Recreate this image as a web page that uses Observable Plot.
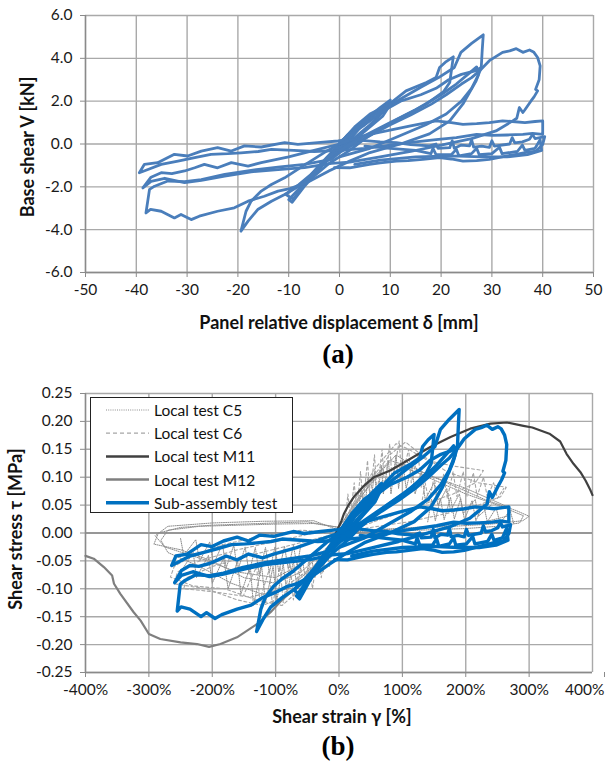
<!DOCTYPE html>
<html><head><meta charset="utf-8">
<script src="https://cdn.jsdelivr.net/npm/d3@7"></script>
<script src="https://cdn.jsdelivr.net/npm/@observablehq/plot@0.6"></script>
<style>
body{margin:0;background:#fff;width:605px;height:764px;position:relative;overflow:hidden;font-family:Lato,"Liberation Sans",sans-serif;}
.panel{position:absolute;left:0;}
.title{position:absolute;font-weight:bold;color:#111;white-space:nowrap;transform:translate(-50%,-50%);font-size:18px;}
.ytitle{position:absolute;font-weight:bold;color:#111;white-space:nowrap;transform:translate(-50%,-50%) rotate(-90deg);font-size:18px;}
.tag{position:absolute;font-family:"Liberation Serif",serif;font-weight:bold;font-size:27px;color:#000;transform:translate(-50%,-50%);}
.legend{position:absolute;left:90px;top:397px;width:203px;height:116px;border:1px solid #222;background:#fff;box-sizing:border-box;}
.legend svg{position:absolute;left:0;top:0;}
.legend div{position:absolute;left:63px;font-size:15.5px;color:#111;transform:translateY(-50%);white-space:nowrap;}
</style></head><body>
<div id="pa" class="panel" style="top:0"></div>
<div id="pb" class="panel" style="top:375px"></div>
<div class="title" style="left:339px;top:322px">Panel relative displacement δ [mm]</div>
<div class="ytitle" style="left:27px;top:147px">Base shear V [kN]</div>
<div class="tag" style="left:338px;top:354px">(a)</div>
<div class="title" style="left:342px;top:716px">Shear strain γ [%]</div>
<div class="ytitle" style="left:15px;top:529px">Shear stress τ [MPa]</div>
<div class="tag" style="left:338px;top:746px">(b)</div>
<div class="legend" id="legend"></div>
<script>
// ---------- Panel (a) axes ----------
const aXTicks = [-50,-40,-30,-20,-10,0,10,20,30,40,50];
const aYTicks = [-6,-4,-2,0,2,4,6];
// ---------- Panel (b) axes ----------
const bXTicks = [-400,-300,-200,-100,0,100,200,300,400];
const bYTicks = [-0.25,-0.2,-0.15,-0.1,-0.05,0,0.05,0.1,0.15,0.2,0.25];

// ---------- Panel (a) sub-assembly test loops: [δ mm, V kN] ----------
const aLoop0 = [[0,0],[1.5,0.4],[3,0.7],[1.5,0.2],[0,-0.2],[-1.5,-0.5],[-3,-0.8],[-1.5,-0.4],[0,0]];
const aLoop1 = [[0,0],[2,0.5],[4,0.9],[5.5,1.2],[4.2,0.8],[2,0.2],[0,-0.3],[-2,-0.7],[-4,-1.1],[-5.5,-1.4],[-4,-1.0],[-2,-0.5],[0,0]];
const aLoop2 = [[0,0],[3,0.7],[6,1.3],[8,1.7],[10,2.05],[9,1.6],[6,0.9],[3,0.3],[0,-0.3],[-3,-0.9],[-6,-1.6],[-8,-2.1],[-10,-2.6],[-9.3,-2.72],[-7,-2.0],[-4,-1.2],[-1,-0.3],[0,0]];
const aLoop3 = [[0,0],[4,0.8],[7,1.4],[10,1.85],[8.5,1.3],[5,0.6],[2,0],[-2,-0.6],[-5,-1.3],[-8,-1.9],[-10.6,-2.35],[-9.1,-2.58],[-7,-1.9],[-3,-0.9],[0,0]];
const aLoop4 = [[0,0],[3,0.8],[6,1.4],[9.8,1.86],[13.1,2.48],[17.1,2.87],[19,3.1],[19.7,3.57],[21,3.85],[22.4,4.07],[21.7,2.87],[20.5,2.45],[17,1.85],[13,1.35],[9,0.85],[5,0.25],[2,-0.3],[-2,-0.9],[-6,-1.7],[-10.8,-2.36],[-13.4,-2.67],[-16.1,-3.06],[-18,-3.6],[-19.4,-4.07],[-18.4,-3.14],[-17.4,-2.67],[-15.4,-2.2],[-13.4,-1.89],[-10.8,-1.58],[-7,-1.0],[-3,-0.4],[0,0]];
const aLoop5 = [[0,0],[4,0.9],[8,1.55],[12,2.1],[16,2.65],[19.5,3.1],[22.6,3.57],[23.9,4.28],[26,4.7],[28.3,5.1],[28.1,4.4],[27.9,3.57],[26.9,2.95],[24.3,1.87],[21.7,1.08],[17.7,0.47],[12,0.0],[6,-0.4],[2,-0.8],[-2,-1.25],[-6,-1.75],[-10,-2.1],[-12.1,-2.2],[-14.8,-2.44],[-18,-2.67],[-20.7,-2.98],[-24,-3.14],[-27.6,-3.37],[-29.2,-3.53],[-31.2,-3.29],[-32.5,-3.45],[-35.1,-3.14],[-37.2,-3.05],[-38.1,-3.22],[-37.4,-2.12],[-36.4,-1.97],[-33.8,-1.73],[-30.5,-1.76],[-27.2,-1.66],[-22.6,-1.42],[-17.4,-1.23],[-12.1,-1.08],[-6.9,-0.95],[-1.6,-0.72],[0,-0.4]];
const aLoop6 = [[0,-0.4],[3,0.0],[6,0.4],[10,0.9],[14,1.35],[18,1.85],[21,2.3],[24,2.8],[26,3.1],[27.5,3.4],[29.5,3.89],[32.1,4.28],[33.5,4.35],[34.8,4.45],[36.1,4.28],[37.4,4.39],[38.2,4.3],[39,4.04],[39.5,3.65],[39.3,3.0],[38.6,2.55],[39,2.48],[38.3,2.2],[37.7,2.01],[36.5,1.6],[36.1,1.47],[35.4,1.7],[34.9,1.2],[34.1,1.08],[30.8,0.61],[26,0.25],[20,-0.05],[14,-0.35],[8,-0.6],[2,-0.85],[-1.6,-0.9],[-6.9,-1.1],[-12.1,-1.2],[-17.4,-1.3],[-22.6,-1.5],[-27.2,-1.7],[-30.5,-1.8],[-34.4,-1.6],[-37.1,-1.75],[-38.7,-2.05],[-37.1,-1.55],[-35.1,-1.34],[-33,-1.38],[-30.5,-1.26],[-28.5,-1.11],[-26.6,-0.95],[-24,-1.11],[-21.3,-0.87],[-18,-1.03],[-15.4,-0.87],[-10,-0.6],[-5,-0.3],[0,0]];
const aLoop7 = [[0,0],[4,0.35],[9,0.6],[14,0.85],[19,1.08],[22,1.0],[24.3,0.92],[27,0.95],[29.5,1.0],[32.1,1.08],[34,1.05],[36.5,1.0],[38.5,1.05],[40,1.08],[40,0.45],[38,0.5],[36.1,0.45],[33,0.42],[30,0.4],[27,0.45],[23,0.3],[19,0.2],[15,0.1],[10,-0.05],[5,-0.2],[0,-0.3],[-5,-0.35],[-9,-0.3],[-13.4,-0.25],[-16,-0.35],[-19.4,-0.41],[-22,-0.45],[-25.3,-0.48],[-28.5,-0.64],[-31.8,-0.8],[-35.1,-0.95],[-37.7,-1.19],[-39.4,-1.34],[-38.4,-0.95],[-35.8,-0.87],[-32.5,-0.48],[-29.9,-0.56],[-27.2,-0.33],[-24,-0.17],[-21.3,-0.33],[-18.7,-0.09],[-15.4,-0.14],[-10.8,0.06],[-8.2,-0.02],[-4.3,0.06],[-0.3,0.14],[2,0.2]];
const aLoop8 = [[2,0.2],[5,0.16],[8,0.1],[11.2,0.06],[14,-0.03],[17.7,-0.09],[19,0.0],[19.4,-0.2],[21.7,-0.17],[22.2,0.15],[22.6,-0.2],[24,-0.05],[25.6,-0.09],[26,0.2],[26.4,-0.15],[28,-0.1],[29.5,-0.16],[30,0.15],[30.5,-0.1],[33.5,0],[34,0.3],[34.5,0.05],[36,0.1],[37.4,0.22],[38,0.45],[38.5,0.25],[40.4,0.34],[40,-0.02],[38.7,-0.33],[36.5,-0.4],[34.8,-0.48],[32,-0.6],[29.5,-0.72],[27,-0.78],[24.3,-0.8],[22,-0.7],[19.7,-0.64],[16.4,-0.72],[13.5,-0.78],[11.2,-0.8],[8,-0.88],[5.9,-0.95],[2,-1.11],[-1,-1.1]];
const aLoop9 = [[5,-0.1],[10,-0.2],[15,-0.3],[18,-0.45],[18.4,-0.2],[19,-0.5],[22,-0.5],[23,-0.25],[23.5,-0.55],[26,-0.45],[27,-0.2],[27.5,-0.5],[30,-0.45],[31.5,-0.15],[32,-0.45],[35,-0.35],[36,-0.05],[36.5,-0.3],[38.5,-0.2],[39.5,0.2],[39.8,-0.3],[37,-0.5],[33,-0.6],[28,-0.6],[22,-0.55],[15,-0.6],[8,-0.75],[3,-0.95]];
const aLoop10 = [[0,-0.3],[5,0.4],[10,1.0],[15,1.6],[20,2.3],[23,2.8],[25.5,3.3],[27,3.6],[27.3,3.2],[26,2.6],[24,2.0],[21,1.4],[17,0.9],[12,0.4],[6,-0.2],[0,-0.6]];
const aLoop11 = [[0,0.1],[5,0.9],[9,1.6],[12,2.0],[16,2.3],[19,2.6],[21.5,3.0],[24,3.25],[26.5,3.4],[27.9,3.57]];
const aLoops = [aLoop0,aLoop1,aLoop2,aLoop3,aLoop4,aLoop5,aLoop6,aLoop7,aLoop8,aLoop9,aLoop10,aLoop11];

// unit conversion of the same test to panel (b): read from matching peaks (28.3 mm ↔ 190 %, 5.08 kN ↔ 0.22 MPa)
const strainPercentPerMm = 6.7;
const stressMPaPerKN = 0.0434;

// ---------- Panel (b) local tests: [γ %, τ MPa] ----------
const m11 = [[-5,0.0],[0,0.012],[4,0.022],[7.6,0.034],[15,0.05],[23,0.064],[38,0.083],[55,0.1],[81,0.112],[108,0.13],[144,0.154],[176,0.172],[207,0.187],[239,0.196],[265,0.198],[291,0.192],[305,0.189],[332,0.178],[349,0.164],[359,0.142],[370,0.124],[381,0.109],[389,0.094],[397,0.076],[400,0.068]];
const m12 = [[-400,-0.041],[-387,-0.046],[-371,-0.061],[-358,-0.076],[-355,-0.091],[-345,-0.109],[-324,-0.142],[-313,-0.157],[-300,-0.181],[-282,-0.19],[-250,-0.196],[-224,-0.199],[-205,-0.204],[-187,-0.199],[-161,-0.187],[-129,-0.163],[-108,-0.142],[-90,-0.12],[-70,-0.1],[-50,-0.078],[-30,-0.05],[-12,-0.022],[0,0]];
const c5LoopA = [[0,0.01],[30,0.06],[60,0.1],[90,0.12],[120,0.11],[160,0.09],[200,0.07],[250,0.05],[291,0.031],[285,0.018],[250,0.012],[200,0.008],[150,0.006],[100,0.004],[50,0.002],[0,0],[-30,-0.04],[-60,-0.07],[-100,-0.09],[-150,-0.08],[-200,-0.05],[-250,-0.03],[-292,-0.02],[-285,0.0],[-250,0.01],[-200,0.014],[-150,0.016],[-100,0.018],[-50,0.02],[0,0.01]];
const c5LoopB = [[0,0.01],[40,0.08],[80,0.13],[110,0.12],[150,0.1],[200,0.08],[240,0.06],[270,0.045],[265,0.03],[230,0.02],[180,0.015],[120,0.01],[60,0.005],[0,0],[-40,-0.06],[-80,-0.1],[-120,-0.11],[-170,-0.09],[-220,-0.06],[-270,-0.035],[-281,-0.013],[-270,0.005],[-220,0.012],[-160,0.014],[-100,0.016],[-40,0.017],[0,0.01]];
const c5LoopC = [[0,0.005],[50,0.09],[90,0.14],[130,0.11],[180,0.085],[230,0.06],[280,0.04],[300,0.03],[290,0.022],[240,0.016],[180,0.012],[100,0.008],[0,0.004],[-50,-0.05],[-100,-0.08],[-160,-0.07],[-220,-0.045],[-275,-0.025],[-290,-0.005],[-270,0.012],[-200,0.018],[-120,0.021],[-40,0.022],[0,0.005]];
const c5StreakPos = [[30,0.03],[35,0.08],[40,0.04],[46,0.1],[50,0.05],[56,0.11],[60,0.06],[67,0.12],[70,0.07],[78,0.13],[82,0.07],[90,0.14],[94,0.08],[100,0.13],[106,0.08],[115,0.12],[120,0.07],[130,0.11],[136,0.06],[150,0.09],[156,0.05],[170,0.08],[176,0.04],[190,0.07],[196,0.035],[215,0.06],[220,0.03],[240,0.05]];
const c5StreakNeg = [[-20,-0.03],[-25,-0.07],[-30,-0.035],[-38,-0.08],[-44,-0.04],[-52,-0.09],[-58,-0.045],[-66,-0.1],[-72,-0.05],[-82,-0.11],[-88,-0.055],[-98,-0.12],[-104,-0.06],[-116,-0.125],[-122,-0.06],[-135,-0.13],[-140,-0.06],[-155,-0.11],[-160,-0.05],[-175,-0.1],[-182,-0.045],[-200,-0.09],[-206,-0.04],[-225,-0.08],[-230,-0.035],[-250,-0.07]];
const c5StreakNeg2 = [[-60,-0.02],[-66,-0.06],[-72,-0.022],[-80,-0.065],[-86,-0.024],[-95,-0.07],[-101,-0.025],[-110,-0.072],[-116,-0.026],[-126,-0.074],[-132,-0.026],[-142,-0.072],[-148,-0.025],[-160,-0.068],[-166,-0.022],[-178,-0.062],[-184,-0.02],[-198,-0.056],[-204,-0.016],[-220,-0.05],[-226,-0.012],[-245,-0.04],[-250,-0.01]];
const c5StreakPos2 = [[140,0.02],[146,0.06],[152,0.022],[160,0.062],[166,0.024],[176,0.064],[182,0.025],[192,0.062],[198,0.024],[210,0.058],[216,0.022],[228,0.052],[234,0.02],[248,0.045],[254,0.018],[270,0.04],[276,0.016]];
const c6LoopA = [[0,0],[30,0.07],[60,0.12],[90,0.16],[110,0.15],[140,0.13],[180,0.12],[228,0.112],[215,0.09],[180,0.07],[130,0.05],[80,0.03],[30,0.01],[0,0],[-30,-0.05],[-60,-0.1],[-90,-0.13],[-130,-0.12],[-180,-0.1],[-230,-0.095],[-266,-0.079],[-260,-0.06],[-230,-0.04],[-180,-0.02],[-120,-0.005],[-60,0.005],[0,0]];
const c6LoopB = [[0,0],[40,0.08],[80,0.14],[105,0.163],[130,0.14],[170,0.11],[220,0.09],[264,0.082],[255,0.065],[220,0.05],[170,0.035],[110,0.02],[50,0.01],[0,0],[-40,-0.07],[-80,-0.11],[-120,-0.13],[-160,-0.12],[-210,-0.1],[-260,-0.091],[-255,-0.07],[-220,-0.05],[-160,-0.03],[-100,-0.015],[-40,0],[0,0]];
const c6LoopC = [[0,0],[-40,-0.06],[-90,-0.1],[-140,-0.115],[-200,-0.105],[-245,-0.1],[-240,-0.08],[-200,-0.06],[-140,-0.04],[-70,-0.02],[0,0]];
const c6StreakPos = [[10,0.02],[14,0.07],[18,0.03],[24,0.09],[28,0.04],[34,0.11],[38,0.05],[45,0.13],[49,0.06],[56,0.14],[60,0.07],[68,0.15],[72,0.08],[80,0.16],[84,0.09],[95,0.165],[99,0.1],[110,0.15],[114,0.09],[125,0.14],[130,0.08]];
const c6StreakPos2 = [[130,0.05],[136,0.09],[142,0.055],[150,0.1],[156,0.06],[165,0.105],[171,0.062],[180,0.11],[186,0.065],[196,0.11],[202,0.066],[212,0.108],[218,0.066],[228,0.1],[234,0.065],[244,0.09],[250,0.062],[260,0.08]];
const c6StreakNeg = [[-10,-0.02],[-15,-0.06],[-20,-0.025],[-28,-0.08],[-33,-0.035],[-42,-0.1],[-47,-0.045],[-56,-0.11],[-61,-0.05],[-72,-0.12],[-77,-0.055],[-88,-0.125],[-93,-0.06],[-105,-0.13],[-110,-0.065],[-125,-0.12],[-130,-0.06],[-150,-0.11]];

const seriesNames = ["Local test C5","Local test C6","Local test M11","Local test M12","Sub-assembly test"];

// ---------- build tables ----------
const toRows = (loops, fx = 1, fy = 1) => loops.flatMap((loop, i) => loop.map(([x, y]) => ({x: x * fx, y: y * fy, loop: i})));
const rowsA = toRows(aLoops);
const rowsBlue = toRows(aLoops, strainPercentPerMm, stressMPaPerKN);
const rowsC5 = toRows([c5LoopA, c5LoopB, c5LoopC, c5StreakPos, c5StreakPos2, c5StreakNeg, c5StreakNeg2]);
const rowsC6 = toRows([c6LoopA, c6LoopB, c6LoopC, c6StreakPos, c6StreakPos2, c6StreakNeg]);
const rowsM11 = toRows([m11]);
const rowsM12 = toRows([m12]);

const gridColor = "#a9a9a9";
const axisColor = "#8a8a8a";
const baseStyle = {fontFamily: "Lato, 'Liberation Sans', sans-serif", fontSize: "15.5px", color: "#1a1a1a", background: "transparent", overflow: "visible"};

const plotA = Plot.plot({
  width: 605, height: 340,
  marginTop: 15, marginBottom: 68, marginLeft: 85, marginRight: 12,
  style: baseStyle,
  x: {domain: [-50, 50], label: null},
  y: {domain: [-6, 6], label: null},
  marks: [
    Plot.gridX(aXTicks, {stroke: gridColor, strokeOpacity: 1, strokeWidth: 1.4}),
    Plot.gridY(aYTicks, {stroke: gridColor, strokeOpacity: 1, strokeWidth: 1.4}),
    Plot.ruleX([-50], {stroke: axisColor, strokeWidth: 1.4}),
    Plot.ruleY([-6], {stroke: axisColor, strokeWidth: 1.4}),
    Plot.axisX(aXTicks, {tickFormat: d => String(d), tickSize: 5, tickPadding: 6, stroke: axisColor, label: null}),
    Plot.axisY(aYTicks, {tickFormat: d => d.toFixed(1), tickSize: 5, tickPadding: 8, stroke: axisColor, label: null}),
    Plot.line(rowsA, {x: "x", y: "y", z: "loop", stroke: "#4a7ebb", strokeWidth: 2.8, strokeLinejoin: "round", strokeLinecap: "round"})
  ]
});
document.getElementById("pa").append(plotA);

const plotB = Plot.plot({
  width: 605, height: 327,
  marginTop: 18, marginBottom: 30, marginLeft: 85, marginRight: 13,
  style: baseStyle,
  x: {domain: [-400, 400], label: null},
  y: {domain: [-0.25, 0.25], label: null},
  marks: [
    Plot.gridX(bXTicks, {stroke: gridColor, strokeOpacity: 1, strokeWidth: 1.4}),
    Plot.gridY(bYTicks, {stroke: gridColor, strokeOpacity: 1, strokeWidth: 1.4}),
    Plot.ruleY([0], {stroke: axisColor, strokeWidth: 1.4}),
    Plot.ruleX([-400], {stroke: axisColor, strokeWidth: 1.4}),
    Plot.ruleY([-0.25], {stroke: axisColor, strokeWidth: 1.4}),
    Plot.axisX(bXTicks.slice(0, -1), {tickFormat: d => d + "%", tickSize: 5, tickPadding: 6, stroke: axisColor, label: null}),
    Plot.axisX(bXTicks.slice(-1), {tickFormat: d => d + "%", tickSize: 5, tickPadding: 6, stroke: axisColor, label: null, textAnchor: "end", dx: 12}),
    Plot.axisY(bYTicks, {tickFormat: d => d.toFixed(2), tickSize: 5, tickPadding: 8, stroke: axisColor, label: null}),
    Plot.line(rowsC5, {x: "x", y: "y", z: "loop", stroke: "#8c8c8c", strokeWidth: 1, strokeDasharray: "1,1.2"}),
    Plot.line(rowsC6, {x: "x", y: "y", z: "loop", stroke: "#a6a6a6", strokeWidth: 1.1, strokeDasharray: "3,2.5"}),
    Plot.line(rowsM12, {x: "x", y: "y", stroke: "#7f7f7f", strokeWidth: 2.2}),
    Plot.line(rowsM11, {x: "x", y: "y", stroke: "#404040", strokeWidth: 2.2}),
    Plot.line(rowsBlue, {x: "x", y: "y", z: "loop", stroke: "#0070c0", strokeWidth: 3.4, strokeLinejoin: "round", strokeLinecap: "round"})
  ]
});
document.getElementById("pb").append(plotB);

// ---------- legend (inside panel b) ----------
const legendStyles = [
  {stroke: "#8c8c8c", width: 1, dash: "1,1.2"},
  {stroke: "#a6a6a6", width: 1.2, dash: "4,3"},
  {stroke: "#404040", width: 2.5, dash: null},
  {stroke: "#7f7f7f", width: 2.5, dash: null},
  {stroke: "#0070c0", width: 3.5, dash: null}
];
const lg = document.getElementById("legend");
const ns = "http://www.w3.org/2000/svg";
const lsvg = document.createElementNS(ns, "svg");
lsvg.setAttribute("width", 200); lsvg.setAttribute("height", 114);
seriesNames.forEach((name, i) => {
  const cy = 12 + i * 23.2;
  const ln = document.createElementNS(ns, "line");
  ln.setAttribute("x1", 15); ln.setAttribute("x2", 58);
  ln.setAttribute("y1", cy); ln.setAttribute("y2", cy);
  ln.setAttribute("stroke", legendStyles[i].stroke);
  ln.setAttribute("stroke-width", legendStyles[i].width);
  if (legendStyles[i].dash) ln.setAttribute("stroke-dasharray", legendStyles[i].dash);
  lsvg.append(ln);
  const t = document.createElement("div");
  t.style.top = cy + "px";
  t.textContent = name;
  lg.append(t);
});
lg.prepend(lsvg);
</script>
</body></html>
